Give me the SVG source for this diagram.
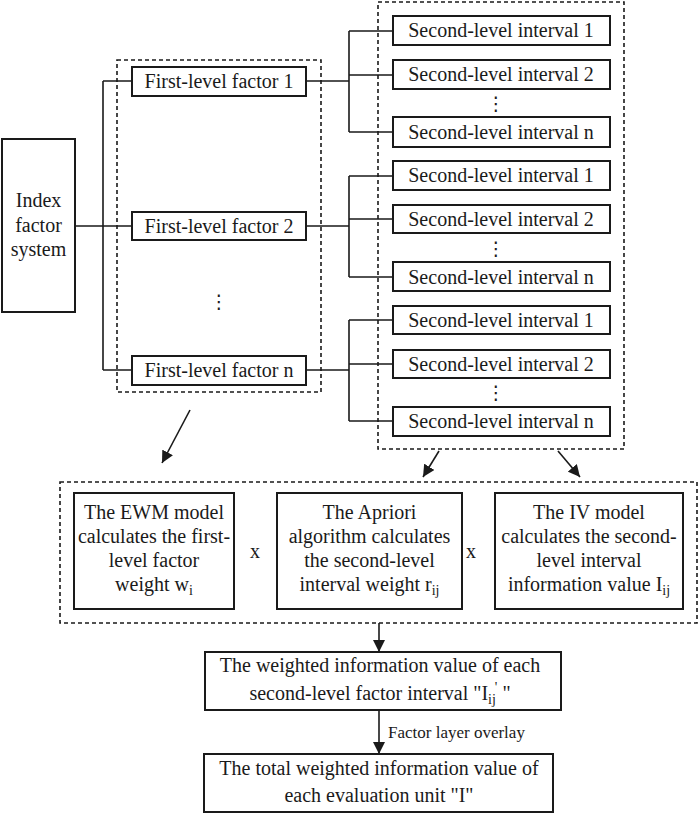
<svg xmlns="http://www.w3.org/2000/svg" width="699" height="814" viewBox="0 0 699 814">
<style>
.bx{fill:#fff;stroke:#1a1a1a;stroke-width:2}
.dash{fill:none;stroke:#1a1a1a;stroke-width:1.6;stroke-dasharray:4 3}
.ln{fill:none;stroke:#1a1a1a;stroke-width:1.6}
.ar{fill:none;stroke:#1a1a1a;stroke-width:1.6;marker-end:url(#ah)}
text{font-family:"Liberation Serif","Times New Roman",serif;font-size:20px;fill:#1a1a1a;text-anchor:middle}
.dots{font-family:"DejaVu Sans",sans-serif;font-size:19px}
.sm{font-size:17px;text-anchor:start}
</style>
<defs>
<marker id="ah" viewBox="0 0 10 10" refX="10" refY="5" markerWidth="12" markerHeight="12" markerUnits="userSpaceOnUse" orient="auto">
<path d="M0,0 L10,5 L0,10 z" fill="#1a1a1a"/>
</marker>
</defs>
<rect width="699" height="814" fill="#fff"/>

<g id="groups">
<rect class="dash" x="117" y="60" width="204" height="332"/>
<rect class="dash" x="378" y="2" width="246" height="447"/>
<rect class="dash" x="60" y="482" width="637" height="141"/>
</g>

<g id="connectors">
<path class="ln" d="M75,226 H103 M103,81 V370 M103,81 H132 M103,226 H132 M103,370 H132"/>
<path class="ln" d="M306,81 H349 M349,31 V132 M349,31 H393 M349,75 H393 M349,132 H393"/>
<path class="ln" d="M306,226 H349 M349,176 V277 M349,176 H393 M349,219 H393 M349,277 H393"/>
<path class="ln" d="M306,370 H349 M349,320 V421 M349,320 H393 M349,364 H393 M349,421 H393"/>
<path class="ar" d="M190,410 L162,463"/>
<path class="ar" d="M439,451 L423,477"/>
<path class="ar" d="M558,451 L580,477"/>
<path class="ar" d="M379,623 V652"/>
<path class="ar" d="M379,710 V754"/>
<text class="sm" x="388" y="738">Factor layer overlay</text>
</g>

<g id="index">
<rect class="bx" x="2" y="139" width="73" height="173"/>
<text x="38.5" y="207">Index</text>
<text x="38.5" y="232">factor</text>
<text x="38.5" y="256">system</text>
</g>

<g id="first1"><rect class="bx" x="132" y="67" width="174" height="29"/><text x="219" y="88">First-level factor 1</text></g>
<g id="first2"><rect class="bx" x="132" y="212" width="174" height="28"/><text x="219" y="233">First-level factor 2</text></g>
<text class="dots" x="219" y="308">⋮</text>
<g id="firstn"><rect class="bx" x="132" y="356" width="174" height="29"/><text x="219" y="377">First-level factor n</text></g>

<g id="s11"><rect class="bx" x="393" y="16" width="217" height="29"/><text x="501" y="37">Second-level interval 1</text></g>
<g id="s12"><rect class="bx" x="393" y="60" width="217" height="29"/><text x="501" y="81">Second-level interval 2</text></g>
<text class="dots" x="496" y="110">⋮</text>
<g id="s1n"><rect class="bx" x="393" y="117" width="217" height="30"/><text x="501" y="139">Second-level interval n</text></g>

<g id="s21"><rect class="bx" x="393" y="161" width="217" height="29"/><text x="501" y="182">Second-level interval 1</text></g>
<g id="s22"><rect class="bx" x="393" y="205" width="217" height="28"/><text x="501" y="226">Second-level interval 2</text></g>
<text class="dots" x="496" y="255">⋮</text>
<g id="s2n"><rect class="bx" x="393" y="262" width="217" height="29"/><text x="501" y="284">Second-level interval n</text></g>

<g id="s31"><rect class="bx" x="393" y="306" width="217" height="28"/><text x="501" y="327">Second-level interval 1</text></g>
<g id="s32"><rect class="bx" x="393" y="350" width="217" height="28"/><text x="501" y="371">Second-level interval 2</text></g>
<text class="dots" x="496" y="399">⋮</text>
<g id="s3n"><rect class="bx" x="393" y="407" width="217" height="29"/><text x="501" y="428">Second-level interval n</text></g>

<g id="ewm">
<rect class="bx" x="74" y="493" width="160" height="116"/>
<text x="154" y="519">The EWM model</text>
<text x="154" y="543">calculates the first-</text>
<text x="154" y="567">level factor</text>
<text x="154" y="591">weight w<tspan font-size="14" dy="4">i</tspan></text>
</g>
<text x="255" y="558">x</text>
<g id="apriori">
<rect class="bx" x="277" y="493" width="185" height="116"/>
<text x="369.5" y="519">The Apriori</text>
<text x="369.5" y="543">algorithm calculates</text>
<text x="369.5" y="567">the second-level</text>
<text x="369.5" y="591">interval weight r<tspan font-size="14" dy="4">ij</tspan></text>
</g>
<text x="471" y="558">x</text>
<g id="iv">
<rect class="bx" x="495" y="493" width="188" height="116"/>
<text x="589" y="519">The IV model</text>
<text x="589" y="543">calculates the second-</text>
<text x="589" y="567">level interval</text>
<text x="589" y="591">information value I<tspan font-size="14" dy="4">ij</tspan></text>
</g>

<g id="weighted">
<rect class="bx" x="205" y="652" width="356" height="58"/>
<text x="380" y="672">The weighted information value of each</text>
<text x="380" y="700">second-level factor interval "I<tspan font-size="14" dy="4">ij</tspan><tspan font-size="14" dx="-1" dy="-12">'</tspan><tspan dy="8"> "</tspan></text>
</g>

<g id="total">
<rect class="bx" x="204" y="754" width="349" height="58"/>
<text x="379" y="775">The total weighted information value of</text>
<text x="379" y="802">each evaluation unit "I"</text>
</g>
</svg>
